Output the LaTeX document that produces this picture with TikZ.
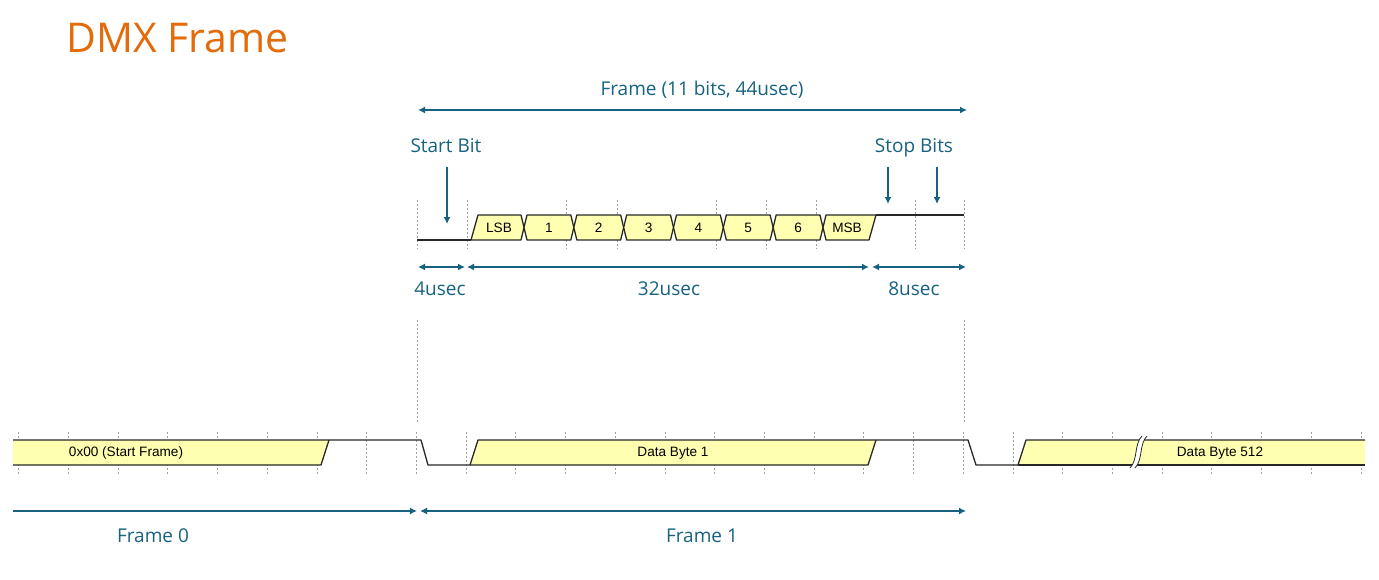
\documentclass[tikz,border=0pt]{standalone}
\usepackage{fontspec}
\setmainfont{Open Sans}
\newfontfamily\arialf{Liberation Sans}
\usetikzlibrary{arrows.meta}
\definecolor{dmxblue}{RGB}{22,98,128}
\definecolor{dmxorange}{RGB}{226,107,10}
\definecolor{byteyellow}{RGB}{255,255,178}
\definecolor{wave}{RGB}{40,40,40}
\definecolor{gridc}{RGB}{160,160,160}
\begin{document}
\begin{tikzpicture}[x=1pt,y=-1pt,
 dim/.style={draw=dmxblue, line width=2pt, {Latex[length=7pt,width=7pt]}-{Latex[length=7pt,width=7pt]}},
 pointer/.style={draw=dmxblue, line width=2pt, -{Latex[length=7pt,width=7pt]}},
 lbl/.style={text=dmxblue, font=\fontsize{19}{22}\selectfont, inner sep=0pt, text height=13pt, text depth=4pt},
 sig/.style={draw=wave, line width=1.3pt, line join=round},
 bytefill/.style={fill=byteyellow},
 bitlbl/.style={font=\arialf\fontsize{13.6}{15}\selectfont, inner sep=0pt},
 gridline/.style={draw=gridc, line width=0.6pt, dash pattern=on 2pt off 2pt},
 breakline/.style={draw=wave, line width=0.8pt},
]
\useasboundingbox (0,0) rectangle (1379,579);

% title
\node[anchor=west, text=dmxorange, font=\fontsize{41}{45}\selectfont, inner sep=0pt] (title) at (66,38) {DMX Frame};

% frame dimension on top
\coordinate (ftl) at (418,110);
\coordinate (ftr) at (967,110);
\draw[dim] (ftl) -- (ftr);
\node[lbl] (framelbl) at (702,91) {Frame (11 bits, 44usec)};

% start / stop bit pointers
\node[lbl] (startlbl) at (446,148) {Start Bit};
\node[lbl] (stoplbl) at (914,148) {Stop Bits};
\coordinate (sa0) at (447,167); \coordinate (sa1) at (447,224);
\coordinate (sb0) at (888,167); \coordinate (sb1) at (888,204);
\coordinate (sc0) at (937,167); \coordinate (sc1) at (937,204);
\draw[pointer] (sa0) -- (sa1);
\draw[pointer] (sb0) -- (sb1);
\draw[pointer] (sc0) -- (sc1);

% top grid
\foreach \gx in {417,467,566,617,716,766,816,915,964}{
  \draw[gridline] (\gx,200) -- (\gx,249);
}

% top waveform
\draw[sig] (417,240) -- (471,240);
\draw[sig] (876,215) -- (964,215);
\draw[sig, bytefill] (471,240) -- (478,215) -- (521,215) -- (524,227.5) -- (521,240) -- cycle;
\foreach \k in {1,...,6}{
  \pgfmathsetmacro{\ca}{524+49.83*(\k-1)}
  \pgfmathsetmacro{\cb}{524+49.83*\k}
  \draw[sig, bytefill] (\ca+3,215) -- (\cb-3,215) -- (\cb,227.5) -- (\cb-3,240) -- (\ca+3,240) -- (\ca,227.5) -- cycle;
}
\draw[sig, bytefill] (826,215) -- (876,215) -- (869,240) -- (826,240) -- (823,227.5) -- cycle;
\node[bitlbl] (bLSB) at (499,228) {LSB};
\foreach \k in {1,...,6}{
  \pgfmathsetmacro{\cm}{524+49.83*(\k-0.5)}
  \node[bitlbl] (b\k) at (\cm,228) {\k};
}
\node[bitlbl] (bMSB) at (847,228) {MSB};

% interval dimensions
\coordinate (i0) at (418,267); \coordinate (i1) at (465,267);
\coordinate (i2) at (467,267); \coordinate (i3) at (869,267);
\coordinate (i4) at (872,267); \coordinate (i5) at (966,267);
\draw[dim] (i0) -- (i1);
\draw[dim] (i2) -- (i3);
\draw[dim] (i4) -- (i5);
\node[lbl] (u4) at (440,291) {4usec};
\node[lbl] (u32) at (669,291) {32usec};
\node[lbl] (u8) at (914,291) {8usec};

% long dashed guides
\draw[gridline] (417,320) -- (417,422);
\draw[gridline] (964,320) -- (964,422);

% bottom grid
\foreach \k in {0,...,27}{
  \pgfmathsetmacro{\gx}{18.5+49.72*\k}
  \draw[gridline] (\gx,432) -- (\gx,475);
}

% bottom fills
\fill[byteyellow] (13,440) -- (329,440) -- (321,465) -- (13,465) -- cycle;
\fill[byteyellow] (470,465) -- (478,440) -- (876,440) -- (868,465) -- cycle;
\fill[byteyellow] (1018,465) -- (1026,440) -- (1365,440) -- (1365,465) -- cycle;

% bottom waveform
\draw[sig] (13,440) -- (421,440) -- (428,465) -- (470,465) -- (478,440) -- (968,440) -- (976,465) -- (1018,465) -- (1026,440) -- (1365,440);
\draw[sig] (13,465) -- (321,465) -- (329,440);
\draw[sig] (470,465) -- (868,465) -- (876,440);
\draw[sig] (1018,465) -- (1365,465);

% break symbol
\fill[white] (1130,468) .. controls (1138,460) and (1134,444) .. (1142,436) -- (1147,436) .. controls (1139,444) and (1143,460) .. (1135,468) -- cycle;
\draw[breakline] (1130,468) .. controls (1138,460) and (1134,444) .. (1142,436);
\draw[breakline] (1135,468) .. controls (1143,460) and (1139,444) .. (1147,436);

% byte labels
\node[bitlbl] (byte0) at (126,453) {0x00 (Start Frame)};
\node[bitlbl] (byte1) at (673,453) {Data Byte 1};
\node[bitlbl] (byte512) at (1220,453) {Data Byte 512};

% frame dimensions at bottom
\coordinate (f0a) at (13,511); \coordinate (f0b) at (417,511);
\coordinate (f1a) at (420,511); \coordinate (f1b) at (966,511);
\draw[pointer] (f0a) -- (f0b);
\draw[dim] (f1a) -- (f1b);
\node[lbl] (fr0) at (153,538) {Frame 0};
\node[lbl] (fr1) at (702,538) {Frame 1};
\end{tikzpicture}
\end{document}
